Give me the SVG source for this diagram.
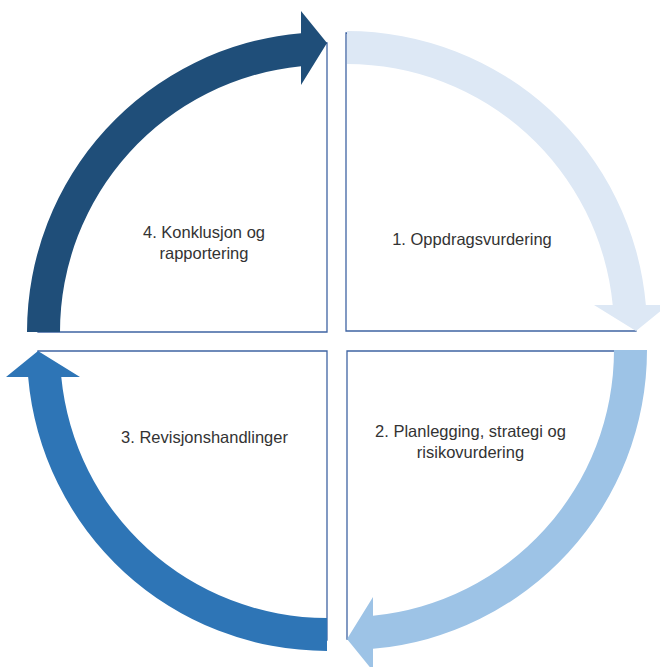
<svg xmlns="http://www.w3.org/2000/svg" xmlns:xlink="http://www.w3.org/1999/xlink" width="660" height="667" viewBox="0 0 660 667">
  <style>
    .quad { fill: #FFFFFF; stroke: #3F64A3; stroke-width: 1.3; }
    .label { font-family: "Liberation Sans", Arial, sans-serif; font-size: 16.5px; fill: #333333; text-anchor: middle; }
  </style>
  <defs>
    <!-- quarter-circle arrow around the origin: tail pointing left, head at the top -->
    <path id="arc-arrow" d="M -300 0 A 300 300 0 0 1 -26 -298.87 L -26 -321 L 0 -289 L -26 -247 L -26 -265.73 A 267 267 0 0 0 -267 0 Z"/>
  </defs>
  <rect width="660" height="667" fill="#FFFFFF"/>

  <g id="step-1">
    <path class="quad" d="M 346 33 L 346 331 L 636 331 A 290 298 0 0 0 346 33 Z"/>
    <text class="label" x="472" y="245">1. Oppdragsvurdering</text>
  </g>

  <g id="step-2">
    <path class="quad" d="M 637 351 L 347 351 L 347 639 A 289 289 0 0 0 637 351 Z"/>
    <text class="label" x="470.5" y="437">2. Planlegging, strategi og</text>
    <text class="label" x="470.5" y="458">risikovurdering</text>
  </g>

  <g id="step-3">
    <path class="quad" d="M 327 640 L 327 351 L 38 351 A 289 289 0 0 0 327 640 Z"/>
    <text class="label" x="204.5" y="443">3. Revisjonshandlinger</text>
  </g>

  <g id="step-4">
    <path class="quad" d="M 327 43 L 327 332 L 38 332 A 289 289 0 0 1 327 43 Z"/>
    <text class="label" x="204" y="238">4. Konklusjon og</text>
    <text class="label" x="204" y="259">rapportering</text>
  </g>

  <g id="connectors">
    <use xlink:href="#arc-arrow" transform="translate(347,331) rotate(90)" fill="#DDE8F5"/>
    <use xlink:href="#arc-arrow" transform="translate(347,350) rotate(180)" fill="#9DC3E6"/>
    <use xlink:href="#arc-arrow" transform="translate(327,351) rotate(270)" fill="#2E75B6"/>
    <use xlink:href="#arc-arrow" transform="translate(327,332)" fill="#1F4E79"/>
  </g>
</svg>
